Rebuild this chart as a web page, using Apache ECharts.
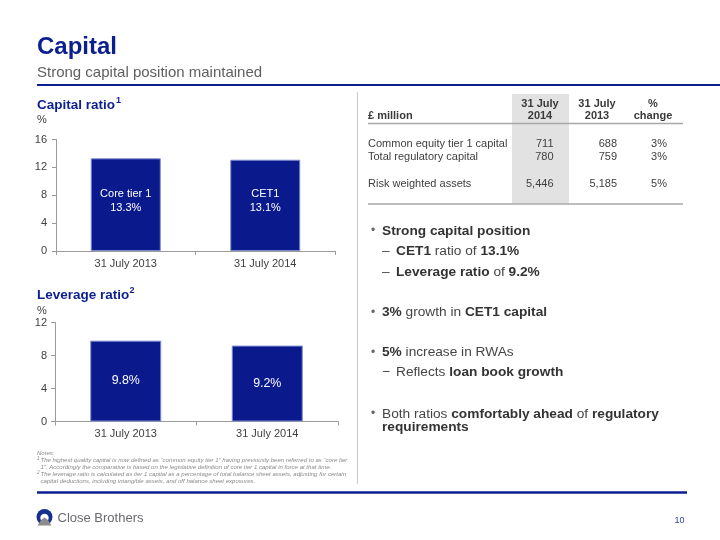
<!DOCTYPE html>
<html>
<head>
<meta charset="utf-8">
<script src="https://cdn.jsdelivr.net/npm/echarts@6/dist/echarts.min.js"></script>
<style>
html,body{margin:0;padding:0;background:#fff;}
#c{width:720px;height:540px;}
</style>
</head>
<body>
<div id="c"></div>
<script>
// ---- data ----
const categories = ['31 July 2013', '31 July 2014'];
const capitalRatio = [13.3, 13.1];
const capitalLabels = ['Core tier 1', 'CET1'];
const leverageRatio = [9.8, 9.2];
const capitalAxis = { min: 0, max: 16, interval: 4 };
const leverageAxis = { min: 0, max: 12, interval: 4 };

const tableHeaderTop = ['31 July', '31 July', '%'];
const tableHeaderBottom = ['2014', '2013', 'change'];
const tableRowNames = ['Common equity tier 1 capital', 'Total regulatory capital', 'Risk weighted assets'];
const table2014 = ['711', '780', '5,446'];
const table2013 = ['688', '759', '5,185'];
const tableChange = ['3%', '3%', '5%'];

const FONT = "'Liberation Sans', Arial, sans-serif";
const BLUE = '#0b1f8f';
const BAR = '#0a198c';
const TXT = '#404040';

const chart = echarts.init(document.getElementById('c'), null, { renderer: 'canvas' });

function txt(x, y, text, size, color, opts) {
  opts = opts || {};
  return {
    type: 'text', silent: true,
    style: Object.assign({
      x: x, y: y, text: text, fill: color,
      font: (opts.italic ? 'italic ' : '') + (opts.bold ? 'bold ' : '') + size + 'px ' + FONT,
      textAlign: opts.align || 'left',
      textVerticalAlign: 'middle'
    }, opts.extra || {})
  };
}
function richTxt(x, y, text, size, color) {
  return {
    type: 'text', silent: true,
    style: {
      x: x, y: y, text: text, fill: color,
      font: size + 'px ' + FONT,
      textVerticalAlign: 'middle',
      rich: {
        b: { fontWeight: 'bold', fontSize: size, fontFamily: FONT, fill: '#333333' },
        n: { fontSize: size, fontFamily: FONT, fill: color }
      }
    }
  };
}
function line(x1, y1, x2, y2, color, w) {
  return { type: 'line', silent: true, shape: { x1: x1, y1: y1, x2: x2, y2: y2 }, style: { stroke: color, lineWidth: w } };
}

const graphics = [];
// header
graphics.push(txt(37, 47, 'Capital', 24, BLUE, { bold: true }));
graphics.push(txt(37, 73, 'Strong capital position maintained', 15, '#5f5f5f'));
graphics.push(line(37, 85, 720, 85, BLUE, 2));
// divider
graphics.push(line(357.5, 92, 357.5, 484, '#c8c8c8', 1));
// chart titles
graphics.push(txt(37, 105, 'Capital ratio', 13.5, BLUE, { bold: true }));
graphics.push(txt(116, 101, '1', 9, BLUE, { bold: true }));
graphics.push(txt(37, 120, '%', 11, TXT));
graphics.push(txt(37, 295, 'Leverage ratio', 13.5, BLUE, { bold: true }));
graphics.push(txt(129.5, 290.5, '2', 9, BLUE, { bold: true }));
graphics.push(txt(37, 311, '%', 11, TXT));

// notes
const NC = '#8a8a8a';
const NS = 6.05;
graphics.push(txt(37, 453, 'Notes:', NS, NC, { italic: true }));
graphics.push(txt(37, 458.5, '1', 4.5, NC, { italic: true }));
graphics.push(txt(40.5, 460, 'The highest quality capital is now defined as \u201ccommon equity tier 1\u201d having previously been referred to as \u201ccore tier', NS, NC, { italic: true }));
graphics.push(txt(40.5, 467, '1\u201d. Accordingly the comparative is based on the legislative definition of core tier 1 capital in force at that time.', NS, NC, { italic: true }));
graphics.push(txt(37, 472.5, '2', 4.5, NC, { italic: true }));
graphics.push(txt(40.5, 474, 'The leverage ratio is calculated as tier 1 capital as a percentage of total balance sheet assets, adjusting for certain', NS, NC, { italic: true }));
graphics.push(txt(40.5, 481, 'capital deductions, including intangible assets, and off balance sheet exposures.', NS, NC, { italic: true }));

// footer
graphics.push(line(37, 492.5, 687, 492.5, BLUE, 2.5));
graphics.push({ type: 'circle', silent: true, shape: { cx: 44.5, cy: 517, r: 8 }, style: { fill: '#15308f' } });
graphics.push({ type: 'circle', silent: true, shape: { cx: 44.5, cy: 518, r: 4.2 }, style: { fill: '#ffffff' } });
graphics.push({ type: 'polygon', silent: true, shape: { points: [[37.5, 525.5], [41, 520], [44.5, 517.5], [48, 520], [51.5, 525.5]] }, style: { fill: '#8c8c8c' } });
graphics.push(txt(57.5, 518, 'Close Brothers', 13, '#6a6a70'));
graphics.push(txt(684.5, 521, '10', 9, '#2b3fa8', { align: 'right' }));

// table
graphics.push({ type: 'rect', silent: true, shape: { x: 512, y: 94, width: 57, height: 110 }, style: { fill: '#e2e2e2' } });
const hx = [540, 597, 653];
for (let i = 0; i < 3; i++) {
  graphics.push(txt(hx[i], 103.5, tableHeaderTop[i], 11, '#3a3a3a', { bold: true, align: 'center' }));
  graphics.push(txt(hx[i], 115.5, tableHeaderBottom[i], 11, '#3a3a3a', { bold: true, align: 'center' }));
}
graphics.push(txt(368, 115.5, '\u00a3 million', 11, '#3a3a3a', { bold: true }));
graphics.push(line(368, 123.5, 683, 123.5, '#a8a8a8', 1.5));
graphics.push(line(368, 204, 683, 204, '#a8a8a8', 1.5));
const rowY = [143.5, 157, 183.5];
for (let i = 0; i < tableRowNames.length; i++) {
  graphics.push(txt(368, rowY[i], tableRowNames[i], 11, TXT));
  graphics.push(txt(553.5, rowY[i], table2014[i], 11, TXT, { align: 'right' }));
  graphics.push(txt(617, rowY[i], table2013[i], 11, TXT, { align: 'right' }));
  graphics.push(txt(667, rowY[i], tableChange[i], 11, TXT, { align: 'right' }));
}

// bullets
const BS = 13.7;
const BC = '#454545';
function bullet(y) { graphics.push(txt(371, y, '\u2022', 12, '#666666')); }
bullet(231); graphics.push(richTxt(382, 231, '{b|Strong capital position}', BS, BC));
graphics.push(txt(382, 251.5, '\u2013', BS, BC)); graphics.push(richTxt(396, 251.5, '{b|CET1}{n| ratio of }{b|13.1%}', BS, BC));
graphics.push(txt(382, 272.5, '\u2013', BS, BC)); graphics.push(richTxt(396, 272.5, '{b|Leverage ratio}{n| of }{b|9.2%}', BS, BC));
bullet(312.5); graphics.push(richTxt(382, 312.5, '{b|3%}{n| growth in }{b|CET1 capital}', BS, BC));
bullet(352.5); graphics.push(richTxt(382, 352.5, '{b|5%}{n| increase in RWAs}', BS, BC));
graphics.push(txt(382, 372.5, '\u2212', BS, BC)); graphics.push(richTxt(396, 372.5, '{n|Reflects }{b|loan book growth}', BS, BC));
bullet(414); graphics.push(richTxt(382, 414, '{n|Both ratios }{b|comfortably ahead}{n| of }{b|regulatory}', BS, BC));
graphics.push(richTxt(382, 427.5, '{b|requirements}', BS, BC));

const axisCommon = {
  axisLine: { show: true, lineStyle: { color: '#9a9a9a', width: 1 } },
  axisTick: { show: true, length: 4, lineStyle: { color: '#9a9a9a' } },
  axisLabel: { color: TXT, fontSize: 11, fontFamily: FONT },
  splitLine: { show: false }
};

const option = {
  animation: false,
  backgroundColor: '#ffffff',
  grid: [
    { left: 56, top: 139.5, width: 279, height: 111.5 },
    { left: 55, top: 322.5, width: 283, height: 99 }
  ],
  xAxis: [
    Object.assign({}, axisCommon, { type: 'category', gridIndex: 0, data: categories,
      axisLabel: { color: TXT, fontSize: 11, fontFamily: FONT, margin: 7 } }),
    Object.assign({}, axisCommon, { type: 'category', gridIndex: 1, data: categories,
      axisLabel: { color: TXT, fontSize: 11, fontFamily: FONT, margin: 7 } })
  ],
  yAxis: [
    Object.assign({}, axisCommon, { type: 'value', gridIndex: 0, min: capitalAxis.min, max: capitalAxis.max, interval: capitalAxis.interval,
      axisLabel: { color: TXT, fontSize: 11, fontFamily: FONT, margin: 9 } }),
    Object.assign({}, axisCommon, { type: 'value', gridIndex: 1, min: leverageAxis.min, max: leverageAxis.max, interval: leverageAxis.interval,
      axisLabel: { color: TXT, fontSize: 11, fontFamily: FONT, margin: 8 } })
  ],
  series: [
    {
      type: 'bar', xAxisIndex: 0, yAxisIndex: 0, barWidth: 70,
      data: capitalRatio,
      itemStyle: { color: BAR, borderColor: '#7d8cce', borderWidth: 1 },
      label: {
        show: true, position: 'inside', offset: [0, -4], color: '#ffffff', fontSize: 11, fontFamily: FONT, lineHeight: 14,
        formatter: p => capitalLabels[p.dataIndex] + '\n' + p.value.toFixed(1) + '%'
      }
    },
    {
      type: 'bar', xAxisIndex: 1, yAxisIndex: 1, barWidth: 71,
      data: leverageRatio,
      itemStyle: { color: BAR, borderColor: '#7d8cce', borderWidth: 1 },
      label: {
        show: true, position: 'inside', color: '#ffffff', fontSize: 12.4, fontFamily: FONT,
        formatter: p => p.value.toFixed(1) + '%'
      }
    }
  ],
  graphic: graphics
};
chart.setOption(option);
</script>
</body>
</html>
